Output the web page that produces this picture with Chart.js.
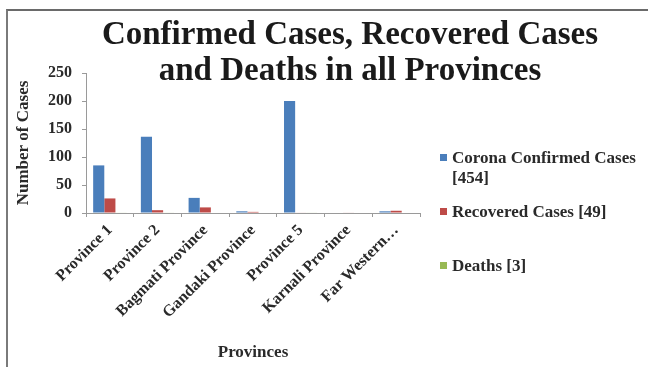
<!DOCTYPE html>
<html lang="en">

<head>
    <meta charset="UTF-8">
    <title>Confirmed Cases, Recovered Cases and Deaths in all Provinces</title>
    <script src="https://cdn.jsdelivr.net/npm/chart.js"></script>
    <style>
        html, body { margin: 0; padding: 0; background: #fff; }
        .frame {
            position: absolute; left: 6px; top: 9px; width: 642px; height: 358px;
            border-left: 2px solid #7a7a7a; border-top: 2px solid #6a6a6a;
        }
        .wrap { position: absolute; left: 0; top: 0; width: 648px; height: 367px; }
        .title {
            position: absolute; left: 80px; width: 540px; top: 15px;
            text-align: center; font-family: "Liberation Serif", serif; font-weight: bold;
            font-size: 33px; line-height: 36px; color: #1a1a1a;
        }
        #legend { position: absolute; left: 440px; top: 148px; font-family: "Liberation Serif", serif;
            font-weight: bold; font-size: 17px; color: #2a2a2a; }
        #legend .item { position: absolute; left: 0; width: 205px; line-height: 20px; white-space: nowrap; }
        #legend .box { position: absolute; left: 0; top: 6px; width: 7px; height: 7px; }
        #legend .txt { margin-left: 12px; }
    </style>
</head>

<body>
    <div class="frame"></div>
    <div class="wrap">
        <canvas id="casesChart" width="648" height="367"></canvas>
    </div>
    <div class="title">Confirmed Cases, Recovered Cases<br>and Deaths in all Provinces</div>
    <div id="legend"></div>

    <script>
        // Data per province
        const provinces = ['Province 1', 'Province 2', 'Bagmati Province', 'Gandaki Province',
            'Province 5', 'Karnali Province', 'Far Western…'];
        const confirmed = [85, 136, 27, 3, 200, 0, 3];
        const recovered = [26, 5, 10, 2, 1, 1, 4];
        const deaths = [1, 1, 0, 0, 1, 0, 0];
        const seriesNames = [['Corona Confirmed Cases', '[454]'], ['Recovered Cases [49]'], ['Deaths [3]']];
        const yTicks = [0, 50, 100, 150, 200, 250];

        const colors = ['#4a7ebb', '#be4b48', '#98b954'];
        const serif = '"Liberation Serif", serif';

        const ctx = document.getElementById('casesChart').getContext('2d');
        const chart = new Chart(ctx, {
            type: 'bar',
            data: {
                labels: provinces,
                datasets: [confirmed, recovered, deaths].map(function (d, i) {
                    return {
                        label: seriesNames[i].join(' '),
                        data: d,
                        backgroundColor: colors[i],
                        categoryPercentage: 0.7,
                        barPercentage: 1.0
                    };
                })
            },
            options: {
                responsive: false,
                animation: false,
                layout: { padding: { left: 13, right: 228, top: 73, bottom: 4 } },
                plugins: {
                    legend: { display: false },
                    tooltip: { enabled: false }
                },
                scales: {
                    x: {
                        // fixed band under the plot for the slanted names and axis title
                        afterFit: function (axis) { axis.height = 150; },
                        grid: { drawOnChartArea: false, drawTicks: true, tickLength: 4, color: '#9a9a9a' },
                        border: { color: '#9a9a9a', width: 1 },
                        ticks: {
                            minRotation: 45, maxRotation: 45, autoSkip: false,
                            color: '#2a2a2a', padding: 4,
                            font: { family: serif, weight: 'bold', size: 16 }
                        },
                        title: {
                            display: true, text: 'Provinces', color: '#2a2a2a', padding: 0,
                            font: { family: serif, weight: 'bold', size: 17 }
                        }
                    },
                    y: {
                        min: 0, max: 250,
                        afterFit: function (axis) { axis.width = 73; },
                        afterBuildTicks: function (axis) {
                            axis.ticks = yTicks.map(function (v) { return { value: v }; });
                        },
                        grid: { drawOnChartArea: false, drawTicks: true, tickLength: 4, color: '#9a9a9a' },
                        border: { color: '#9a9a9a', width: 1 },
                        ticks: {
                            color: '#2a2a2a', padding: 10,
                            font: { family: serif, weight: 'bold', size: 16 }
                        },
                        title: {
                            display: true, text: 'Number of Cases', color: '#2a2a2a', padding: 0,
                            font: { family: serif, weight: 'bold', size: 17 }
                        }
                    }
                }
            }
        });

        // HTML legend; the first entry runs over two lines
        const legendTops = [0, 54, 108];
        const legend = document.getElementById('legend');
        chart.data.datasets.forEach(function (ds, i) {
            const item = document.createElement('div');
            item.className = 'item';
            item.style.top = legendTops[i] + 'px';
            item.innerHTML = '<span class="box" style="background:' + ds.backgroundColor + '"></span>' +
                '<div class="txt">' + seriesNames[i].join('<br>') + '</div>';
            legend.appendChild(item);
        });
    </script>
</body>

</html>
